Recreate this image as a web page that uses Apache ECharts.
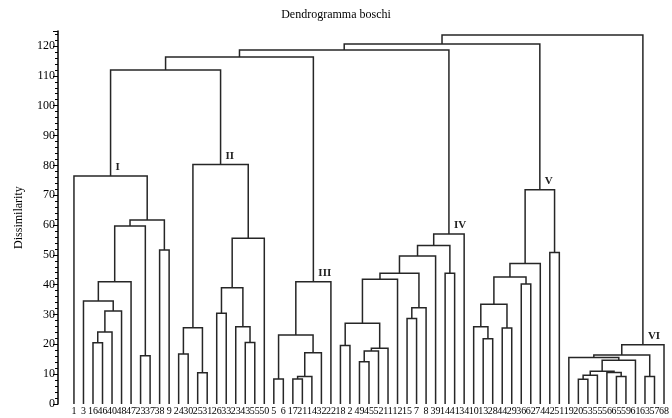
<!DOCTYPE html>
<html><head><meta charset="utf-8">
<script src="https://cdn.jsdelivr.net/npm/echarts@6/dist/echarts.min.js"></script>
<style>html,body{margin:0;padding:0;background:#fff}#c{width:672px;height:418px}</style>
</head><body><div id="c"></div>
<script>
// Leaf labels in display order
const leafLabels = [
  '1','3','16','46','40','48','47','23','37','38','9',
  '24','30','25','31','26','33','23','43','55','50',
  '5','6','17','21','14','32','22',
  '18','2','49','45','52','11','12','15','7','8','39','14','41','34',
  '10','13','28','44','29','36','62','74','42','51',
  '19','20','53','55','56','65','59','61','63','57','68'
];
// Merges: [id, left, right, dissimilarity]; numbers are leaf indices, strings earlier merges
const mergesI = [
  ['i1',2,3,20.5],['i2','i1',4,24.1],['i3','i2',5,31.2],['i4',1,'i3',34.5],
  ['i5','i4',6,41.0],['i6',7,8,16.2],['i7','i5','i6',59.7],['i8',9,10,51.6],
  ['i9','i7','i8',61.7],['I',0,'i9',76.4]
];
const mergesII = [
  ['ii1',11,12,16.8],['ii2',13,14,10.5],['ii3','ii1','ii2',25.6],['ii4',15,16,30.4],
  ['ii5',18,19,20.6],['ii6',17,'ii5',25.9],['ii7','ii4','ii6',39.0],['ii8','ii7',20,55.6],
  ['II','ii3','ii8',80.3]
];
const mergesIII = [
  ['iii1',21,22,8.4],['iii2',23,24,8.4],['iii3','iii2',25,9.2],['iii4','iii3',26,17.2],
  ['iii5','iii1','iii4',23.1],['III','iii5',27,41.0]
];
const mergesIV = [
  ['iv1',28,29,19.6],['iv2',30,31,14.2],['iv3','iv2',32,17.8],['iv4','iv3',33,18.7],
  ['iv5','iv1','iv4',27.1],['iv6','iv5',34,41.8],['iv7',35,36,28.7],['iv8','iv7',37,32.3],
  ['iv9','iv6','iv8',43.8],['iv10','iv9',38,49.6],['iv11',39,40,43.8],
  ['iv12','iv10','iv11',53.1],['IV','iv12',41,57.0]
];
const mergesV = [
  ['v1',43,44,21.9],['v2',42,'v1',25.9],['v3',45,46,25.5],['v4','v2','v3',33.4],
  ['v5',47,48,40.2],['v6','v4','v5',42.6],['v7','v6',49,47.1],['v8',50,51,50.8],
  ['V','v7','v8',71.8]
];
const mergesVI = [
  ['vi1',53,54,8.3],['vi2','vi1',55,9.6],['vi3',57,58,9.2],['vi4',56,'vi3',10.6],
  ['vi5','vi2','vi4',11.0],['vi6','vi5',59,14.7],['vi7',52,'vi6',15.6],['vi8',60,61,9.2],
  ['vi9','vi7','vi8',16.4],['VI','vi9',62,19.9]
];
const mergesTop = [
  ['t1','I','II',112.0],['t2','t1','III',116.3],['t3','t2','IV',118.7],
  ['t4','t3','V',120.7],['t5','t4','VI',123.7]
];
const clusterNames = ['I','II','III','IV','V','VI'];

const allMerges = [].concat(mergesI, mergesII, mergesIII, mergesIV, mergesV, mergesVI, mergesTop);
const node = {};
function get(ref){ return typeof ref === 'number' ? {x: ref, h: 0} : node[ref]; }
const seriesData = allMerges.map(([id, a, b, h]) => {
  const L = get(a), R = get(b);
  const x = (L.x + R.x) / 2;
  node[id] = {x: x, h: h};
  return [Math.round(x), h, L.x, L.h, R.x, R.h, h, clusterNames.indexOf(id)];
});

const chart = echarts.init(document.getElementById('c'), null, {renderer: 'canvas'});
const serif = '"Liberation Serif", "DejaVu Serif", serif';
chart.setOption({
  animation: false,
  backgroundColor: '#fff',
  title: {
    text: 'Dendrogramma boschi', left: 'center', top: 4,
    textStyle: {fontFamily: serif, fontSize: 12, fontWeight: 'normal', color: '#000'}
  },
  grid: {left: 69.2, right: 2.2, top: 31.1, bottom: 14},
  xAxis: {
    type: 'category', data: leafLabels, boundaryGap: true,
    axisLine: {show: false}, axisTick: {show: false}, splitLine: {show: false},
    axisLabel: {interval: 0, margin: 2, color: '#000', fontFamily: serif, fontSize: 10}
  },
  yAxis: {
    type: 'value', min: 0, max: 125, interval: 10, offset: 11.2,
    name: 'Dissimilarity', nameLocation: 'middle', nameGap: 33,
    nameTextStyle: {fontFamily: serif, fontSize: 12, color: '#000'},
    axisLine: {show: true, lineStyle: {color: '#000', width: 1.5}},
    axisTick: {show: true, length: 5, lineStyle: {color: '#000', width: 1}},
    minorTick: {show: true, splitNumber: 5, length: 3, lineStyle: {color: '#000', width: 1}},
    splitLine: {show: false},
    axisLabel: {color: '#000', fontFamily: serif, fontSize: 12, margin: 3, showMaxLabel: false}
  },
  series: [{
    type: 'custom',
    clip: false,
    encode: {x: 0, y: 1},
    data: seriesData,
    renderItem: function (params, api) {
      const lx = api.value(2), lh = api.value(3), rx = api.value(4), rh = api.value(5), h = api.value(6);
      const ci = api.value(7);
      const p0 = api.coord([0, 0]), p1 = api.coord([1, 0]);
      const step = p1[0] - p0[0];
      const X = v => p0[0] + v * step;
      const Y = v => api.coord([0, v])[1];
      const children = [{
        type: 'polyline',
        shape: {points: [[X(lx), Y(lh)], [X(lx), Y(h)], [X(rx), Y(h)], [X(rx), Y(rh)]]},
        style: {stroke: '#262626', lineWidth: 1.5, fill: null}
      }];
      if (ci >= 0) {
        children.push({
          type: 'text', x: X((lx + rx) / 2) + 5, y: Y(h) - 3,
          style: {text: clusterNames[ci], fill: '#222', font: 'bold 11px ' + serif,
                  textAlign: 'left', textVerticalAlign: 'bottom'}
        });
      }
      return {type: 'group', children: children};
    }
  }]
});
</script></body></html>
